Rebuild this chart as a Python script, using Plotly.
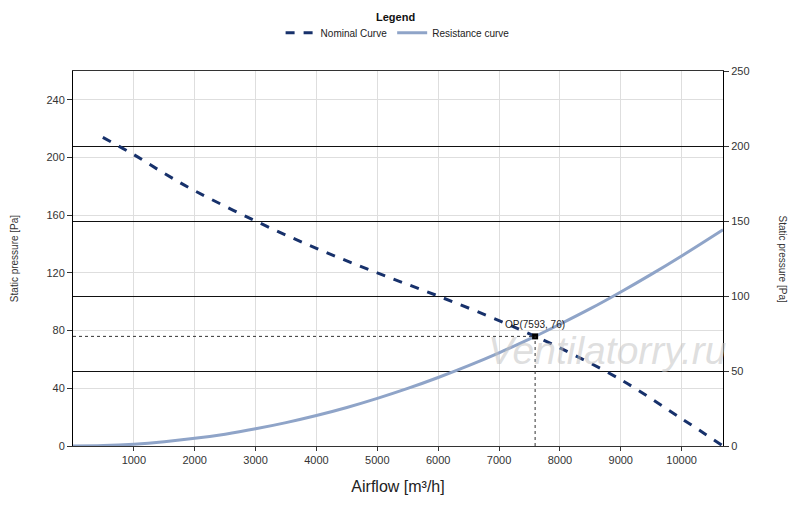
import plotly.graph_objects as go

# values
airflow_nominal = [490, 1000, 1500, 2000, 3000, 4000, 5000, 6000, 7000, 7593, 8000, 9000, 10000, 10680]
pressure_nominal = [214, 202, 189, 177, 156, 137, 120, 104, 87, 76, 68, 46, 19, 0]

airflow_resist = [0, 500, 1000, 1500, 2000, 2500, 3000, 3500, 4000, 4500, 5000, 5500, 6000, 6500,
                  7000, 7593, 8000, 8500, 9000, 9500, 10000, 10680]
pressure_resist = [0, 0.3, 1.3, 3, 5.3, 8.2, 11.9, 16.2, 21.1, 26.7, 33, 39.9, 47.5, 55.7,
                   64.6, 76, 84.4, 95.2, 106.8, 119, 131.8, 150]

op_flow = 7593
op_pressure = 76

fnt = "Liberation Sans, Arial, sans-serif"

fig = go.Figure()
fig.add_trace(go.Scatter(x=airflow_nominal, y=pressure_nominal, name="Nominal Curve", mode="lines",
                         line=dict(color="#17316b", width=3, dash="dash", shape="spline")))
fig.add_trace(go.Scatter(x=airflow_resist, y=pressure_resist, name="Resistance curve", mode="lines",
                         line=dict(color="#8fa4c8", width=3, shape="spline")))
fig.add_trace(go.Scatter(x=[op_flow], y=[op_pressure], mode="markers", showlegend=False,
                         marker=dict(color="black", size=6, symbol="square")))
# dummy trace so the right axis is drawn
fig.add_trace(go.Scatter(x=[0], y=[0], yaxis="y2", mode="markers", showlegend=False,
                         marker=dict(opacity=0), hoverinfo="skip"))

fig.add_shape(type="line", x0=0, x1=op_flow, y0=op_pressure, y1=op_pressure,
              line=dict(color="#333", width=1, dash="dot"))
fig.add_shape(type="line", x0=op_flow, x1=op_flow, y0=0, y1=op_pressure,
              line=dict(color="#333", width=1, dash="dot"))

fig.add_annotation(x=op_flow, y=op_pressure, text=f"OP({op_flow}, {op_pressure})", showarrow=False,
                   yshift=12, font=dict(family=fnt, size=10, color="#222"))
fig.add_annotation(x=0.822, y=0.256, xref="paper", yref="paper", xanchor="center", yanchor="middle",
                   text="<i>Ventilatorry.ru</i>", showarrow=False,
                   font=dict(family=fnt, size=39, color="rgba(195,195,195,0.55)"))
fig.add_annotation(x=1.0908, y=0.5, xref="paper", yref="paper", xanchor="center", yanchor="middle",
                   text="Static pressure [Pa]", textangle=90, showarrow=False,
                   font=dict(family=fnt, size=10, color="#333"))
fig.add_annotation(x=0.4954, y=1.144, xref="paper", yref="paper", xanchor="center", yanchor="middle",
                   text="<b>Legend</b>", showarrow=False,
                   font=dict(family=fnt, size=11, color="#111"))

fig.update_layout(
    width=800, height=507,
    margin=dict(l=65, r=85, t=63, b=69, autoexpand=False),
    plot_bgcolor="white", paper_bgcolor="white",
    font=dict(family=fnt, size=11, color="#333"),
    legend=dict(orientation="h", x=0.487, xref="container", xanchor="center",
                y=0.98, yref="container", yanchor="top",
                font=dict(size=10, color="#222")),
    xaxis=dict(range=[0, 10680], showgrid=True, gridcolor="#dedede", automargin=False,
               showline=True, linecolor="#333", mirror=True, ticks="outside", ticklen=4,
               tickcolor="#333", zeroline=False, tickformat="d",
               tickvals=[1000, 2000, 3000, 4000, 5000, 6000, 7000, 8000, 9000, 10000],
               title=dict(text="Airflow [m³/h]", font=dict(size=16, color="#222"), standoff=15)),
    yaxis=dict(range=[0, 260], dtick=40, showgrid=True, gridcolor="#dedede", automargin=False,
               showline=True, linecolor="black", ticks="outside", ticklen=5, tickcolor="#333",
               zeroline=False,
               title=dict(text="Static pressure [Pa]", font=dict(size=10, color="#333"), standoff=25)),
    yaxis2=dict(range=[0, 250], dtick=50, overlaying="y", side="right", showgrid=True,
                gridcolor="#111", gridwidth=1, showline=True, linecolor="black", ticks="outside",
                ticklen=5, tickcolor="#333", zeroline=False, automargin=False),
)

fig.write_html("out.html")
